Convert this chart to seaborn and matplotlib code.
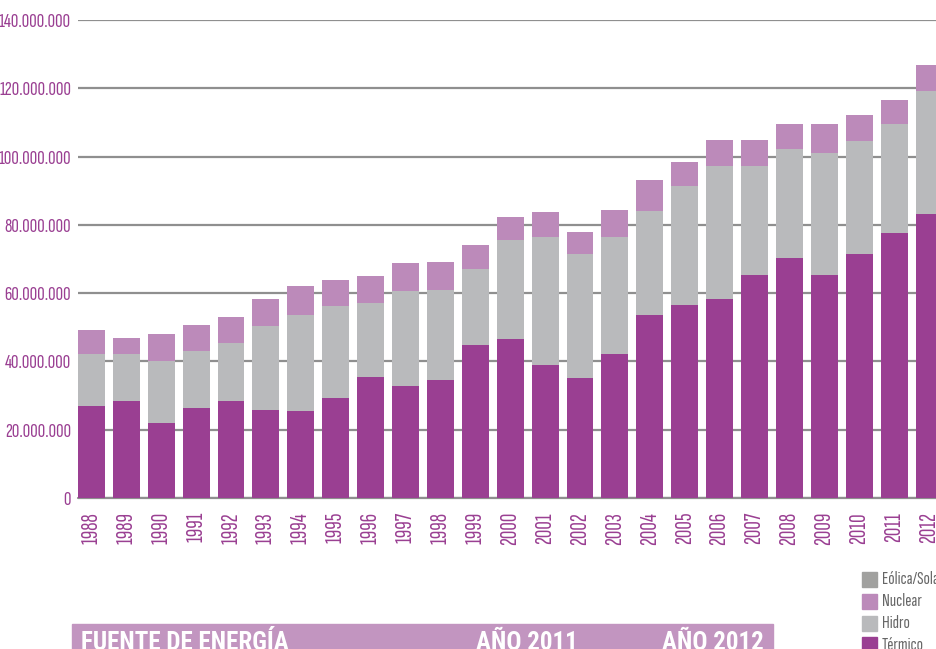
import numpy as np
import pandas as pd
import matplotlib
matplotlib.use("Agg")
import matplotlib.pyplot as plt
import matplotlib.ticker as mticker
from matplotlib.patches import Rectangle
import seaborn as sns

# Data (millions)
years = [str(y) for y in range(1988, 2013)]
termico = [27.0, 28.4, 22.0, 26.4, 28.4, 25.8, 25.5, 29.3, 35.4, 32.8, 34.6, 44.8, 46.6,
           39.0, 35.1, 42.2, 53.5, 56.4, 58.2, 65.2, 70.2, 65.2, 71.4, 77.5, 83.1]
hidro = [15.2, 13.8, 18.1, 16.7, 17.0, 24.6, 28.1, 26.9, 21.7, 27.8, 26.3, 22.3, 29.0,
         37.5, 36.4, 34.3, 30.5, 34.9, 38.9, 31.9, 31.9, 35.7, 33.3, 32.1, 36.0]
nuclear = [6.9, 4.7, 7.9, 7.6, 7.6, 7.9, 8.5, 7.7, 7.9, 8.2, 8.2, 7.0, 6.7,
           7.3, 6.4, 7.9, 9.0, 7.0, 7.8, 7.8, 7.5, 8.7, 7.6, 7.0, 7.6]
eolica = [0] * 25

legend_names = ["Eólica/Solar", "Nuclear", "Hidro", "Térmico"]
header = ["FUENTE DE ENERGÍA", "AÑO 2011", "AÑO 2012"]
colors = {"Eólica/Solar": "#a1a19f", "Nuclear": "#bc8aba",
          "Hidro": "#b9babc", "Térmico": "#9a3f92"}

df = pd.DataFrame({"year": years,
                   "Térmico": np.array(termico) * 1e6,
                   "Hidro": np.array(hidro) * 1e6,
                   "Nuclear": np.array(nuclear) * 1e6,
                   "Eólica/Solar": np.array(eolica) * 1e6})

sns.set_style("white")
cond = ["Sofia Sans Extra Condensed", "Saira ExtraCondensed", "Roboto Condensed", "DejaVu Sans"]
plt.rcParams["font.family"] = cond

purple = "#9a3f92"
W, H = 936, 649
fig = plt.figure(figsize=(W / 100, H / 100), dpi=100)
ax = fig.add_axes([78 / W, 151 / H, (936 - 78) / W, (498 - 20) / H])

# stacked bars: draw cumulative totals, tallest first
stack = ["Térmico", "Hidro", "Nuclear", "Eólica/Solar"]
cum = df[stack].cumsum(axis=1)
for name in reversed(stack):
    sns.barplot(x=df["year"], y=cum[name], color=colors[name], saturation=1,
                width=0.77, linewidth=0, ax=ax, zorder=2)

ax.set_ylim(0, 140e6)
ax.set_xlim(-0.385, 24.2)
ax.yaxis.set_major_locator(mticker.MultipleLocator(20e6))
ax.yaxis.set_major_formatter(mticker.FuncFormatter(lambda v, p: f"{v:,.0f}".replace(",", ".")))
ax.grid(axis="y", color="#8f8f8f", linewidth=1.6, zorder=0)
ax.set_axisbelow(True)
for s in ax.spines.values():
    s.set_visible(False)
ax.axhline(0, color="#8f8f8f", linewidth=1.6, zorder=1, clip_on=False)
ax.tick_params(axis="y", length=0, pad=5, labelsize=15, labelcolor=purple)
ax.tick_params(axis="x", length=0, pad=10, labelsize=17, labelcolor=purple, rotation=90)
ax.set_xlabel("")
ax.set_ylabel("")

# table header band at the bottom
fig.patches.append(Rectangle((72 / W, 0), (773 - 72) / W, (649 - 624) / H,
                             transform=fig.transFigure, color="#c295c0", zorder=0))
for txt, xp in zip(header, [81, 476, 662]):
    fig.text(xp / W, 1 - 631 / H, txt, color="white", fontsize=18, fontweight="bold",
             va="top", ha="left", family=["Roboto Condensed", "DejaVu Sans"])

# legend at bottom right
for i, name in enumerate(legend_names):
    yc = 579.5 + i * 21.8
    fig.patches.append(Rectangle((862 / W, 1 - (yc + 7.5) / H), 15 / W, 15 / H,
                                 transform=fig.transFigure, color=colors[name]))
    fig.text(882 / W, 1 - yc / H, name, color="#666666", fontsize=13.5, va="center", ha="left")

fig.savefig("out.png", dpi=100)
